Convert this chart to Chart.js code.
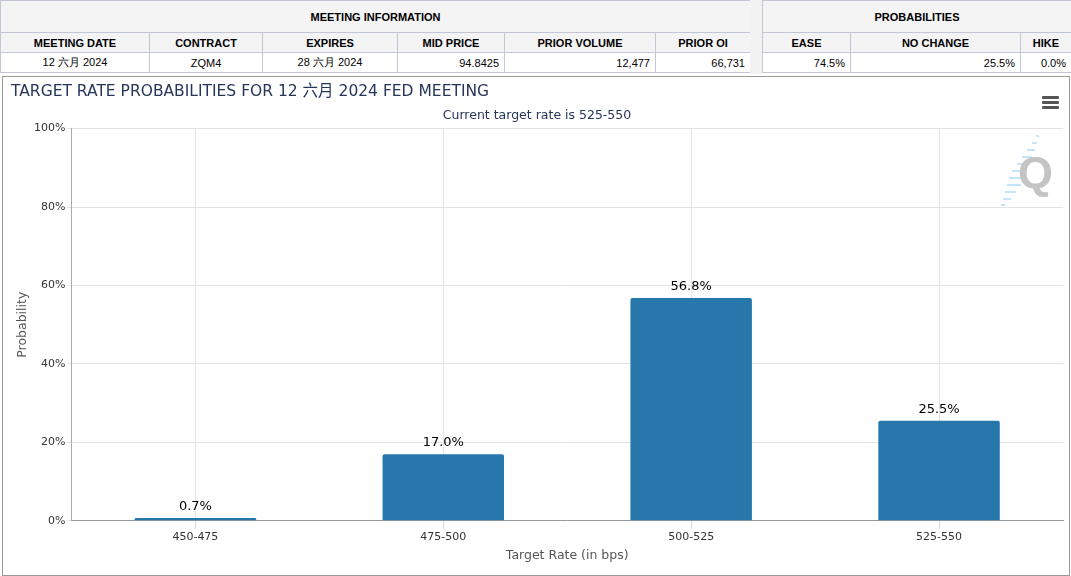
<!DOCTYPE html>
<html>
<head>
<meta charset="utf-8">
<script src="https://cdn.jsdelivr.net/npm/chart.js@4"></script>
<style>
    body { margin: 0; background: #fff; font-family: "Liberation Sans", Arial, sans-serif; }
    .gap { position: absolute; left: 750px; top: 0; width: 12px; height: 74px; background: #f2f2f2; }
    table { position: absolute; top: 0; border-collapse: collapse; font-size: 11px; color: #000; }
    td { border: 1px solid #c3c6d4; padding: 0 5px; }
    tr.h1 td { height: 31px; background: #f4f4f4; font-weight: bold; text-align: center; }
    tr.h2 td { height: 19px; background: #f4f4f4; font-weight: bold; text-align: center; }
    tr.d td { height: 19px; background: #fff; }
    .c { text-align: center; }
    .r { text-align: right; }
    #panel { position: absolute; left: 2px; top: 76px; width: 1066px; height: 498px; border: 1px solid #999; }
    #menu { position: absolute; right: 10px; top: 19px; width: 17px; }
    #menu div { height: 3px; background: #555; margin-bottom: 2px; border-radius: 1px; }
    #logo { position: absolute; left: 997px; top: 56px; width: 55px; height: 75px; }
</style>
</head>
<body>
<table style="left:0; width:751px;">
    <tr class="h1"><td colspan="6">MEETING INFORMATION</td></tr>
    <tr class="h2">
        <td style="width:138px">MEETING DATE</td><td style="width:102px">CONTRACT</td><td style="width:124px">EXPIRES</td>
        <td style="width:96px">MID PRICE</td><td style="width:140px">PRIOR VOLUME</td><td>PRIOR OI</td>
    </tr>
    <tr class="d">
        <td class="c">12 六月 2024</td><td class="c">ZQM4</td><td class="c">28 六月 2024</td>
        <td class="r">94.8425</td><td class="r">12,477</td><td class="r">66,731</td>
    </tr>
</table>
<div class="gap"></div>
<table style="left:762px; width:310px;">
    <tr class="h1"><td colspan="3">PROBABILITIES</td></tr>
    <tr class="h2"><td style="width:77px">EASE</td><td style="width:159px">NO CHANGE</td><td>HIKE</td></tr>
    <tr class="d"><td class="r">74.5%</td><td class="r">25.5%</td><td class="r">0.0%</td></tr>
</table>

<div id="panel">
    <canvas id="chart1" width="1066" height="498"></canvas>
    <div id="menu"><div></div><div></div><div></div></div>
    <svg id="logo" viewBox="0 0 55 75">
        <g stroke="#b3e0f5" stroke-width="1.6">
            <line x1="36" y1="3" x2="39" y2="3"/>
            <line x1="32" y1="10" x2="37" y2="10"/>
            <line x1="27" y1="17" x2="35" y2="17"/>
            <line x1="22" y1="24" x2="32" y2="24"/>
            <line x1="17" y1="31" x2="30" y2="31"/>
            <line x1="12" y1="38" x2="27" y2="38"/>
            <line x1="9" y1="45" x2="24" y2="45"/>
            <line x1="7" y1="52" x2="21" y2="52"/>
            <line x1="5" y1="59" x2="16" y2="59"/>
            <line x1="3" y1="66" x2="11" y2="66"/>
            <line x1="1" y1="72" x2="5" y2="72"/>
        </g>
        <text x="18" y="55" font-family="Liberation Sans" font-weight="bold" font-size="45" fill="#c4c4c4">Q</text>
    </svg>
</div>

<script>
    // Dados
    const categorias = ['450-475', '475-500', '500-525', '525-550'];
    const probabilidades = [0.7, 17.0, 56.8, 25.5];
    const ticksY = [0, 20, 40, 60, 80, 100];

    // rótulos em cima das barras
    const rotulos = {
        id: 'rotulos',
        afterDatasetsDraw(chart) {
            const ctx = chart.ctx;
            ctx.save();
            ctx.font = '13px "DejaVu Sans"';
            ctx.fillStyle = '#000';
            ctx.textAlign = 'center';
            ctx.textBaseline = 'bottom';
            chart.getDatasetMeta(0).data.forEach((bar, i) => {
                ctx.fillText(probabilidades[i].toFixed(1) + '%', bar.x, bar.y - 5);
            });
            ctx.restore();
        }
    };

    new Chart(document.getElementById('chart1'), {
        type: 'bar',
        data: {
            labels: categorias,
            datasets: [{
                label: 'Probability',
                data: probabilidades,
                backgroundColor: '#2777ad',
                borderRadius: { topLeft: 2, topRight: 2 },
                borderSkipped: 'bottom',
                barPercentage: 1,
                categoryPercentage: 0.49
            }]
        },
        options: {
            responsive: false,
            animation: false,
            layout: { padding: { left: 8, right: 6, top: 0, bottom: 8 } },
            plugins: {
                legend: { display: false },
                tooltip: { enabled: false },
                title: {
                    display: true,
                    text: 'TARGET RATE PROBABILITIES FOR 12 六月 2024 FED MEETING',
                    align: 'start',
                    color: '#26355a',
                    font: { family: '"DejaVu Sans", "Noto Sans CJK SC"', size: 15.5, weight: 'normal' },
                    padding: { top: 6, bottom: 7 }
                },
                subtitle: {
                    display: true,
                    text: 'Current target rate is 525-550',
                    color: '#26355a',
                    font: { family: '"DejaVu Sans"', size: 12.5 },
                    padding: { bottom: 5 }
                }
            },
            scales: {
                x: {
                    grid: { offset: false, color: '#e3e3e3', tickLength: 8, tickColor: '#d8d8d8' },
                    border: { color: '#999' },
                    ticks: { color: '#333', font: { family: '"DejaVu Sans"', size: 11 }, padding: 2 },
                    title: {
                        display: true, text: 'Target Rate (in bps)', color: '#555',
                        font: { family: '"DejaVu Sans"', size: 12.5 }, padding: { top: 2 }
                    }
                },
                y: {
                    min: 0,
                    max: 100,
                    afterBuildTicks: axis => { axis.ticks = ticksY.map(v => ({ value: v })); },
                    grid: { color: '#e3e3e3', tickLength: 4, tickColor: '#e3e3e3' },
                    border: { color: '#aaa' },
                    ticks: {
                        color: '#333', font: { family: '"DejaVu Sans"', size: 11 }, padding: 2,
                        callback: v => v + '%'
                    },
                    title: {
                        display: true, text: 'Probability', color: '#555',
                        font: { family: '"DejaVu Sans"', size: 12.5 }, padding: { top: 4, bottom: 2 }
                    }
                }
            }
        },
        plugins: [rotulos]
    });
</script>
</body>
</html>
